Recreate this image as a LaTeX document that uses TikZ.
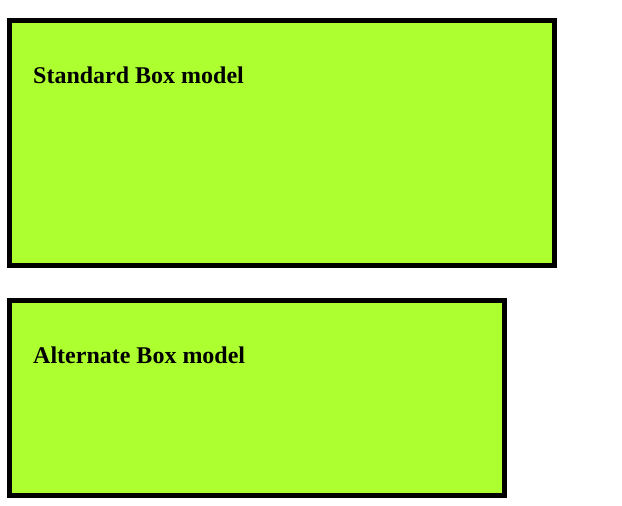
\documentclass[tikz,border=0pt]{standalone}
\usepackage{fontspec}
\setmainfont{Liberation Serif}
\usepackage{xcolor}
\usetikzlibrary{positioning}
\definecolor{boxfill}{HTML}{ADFF2F}
\definecolor{edge}{HTML}{000000}
\definecolor{text}{HTML}{000000}
\tikzset{
  modelbox/.style={draw=edge, fill=boxfill, line width=5pt, inner sep=0pt},
  lab/.style={text=text, font=\fontsize{24pt}{28pt}\selectfont\bfseries, inner sep=0pt, anchor=base west},
}
\begin{document}
\begin{tikzpicture}[x=1pt,y=-1pt]
  \useasboundingbox (0,0) rectangle (622,506);

  \node[modelbox, minimum width=545pt, minimum height=245pt] (stdbox) at (282,143) {};
  \node[modelbox, minimum width=495pt, minimum height=195pt] (altbox) at (257,398) {};

  \node[lab] (stdlab) at (33,83) {Standard Box model};
  \node[lab] (altlab) at (33,363) {Alternate Box model};
\end{tikzpicture}
\end{document}
